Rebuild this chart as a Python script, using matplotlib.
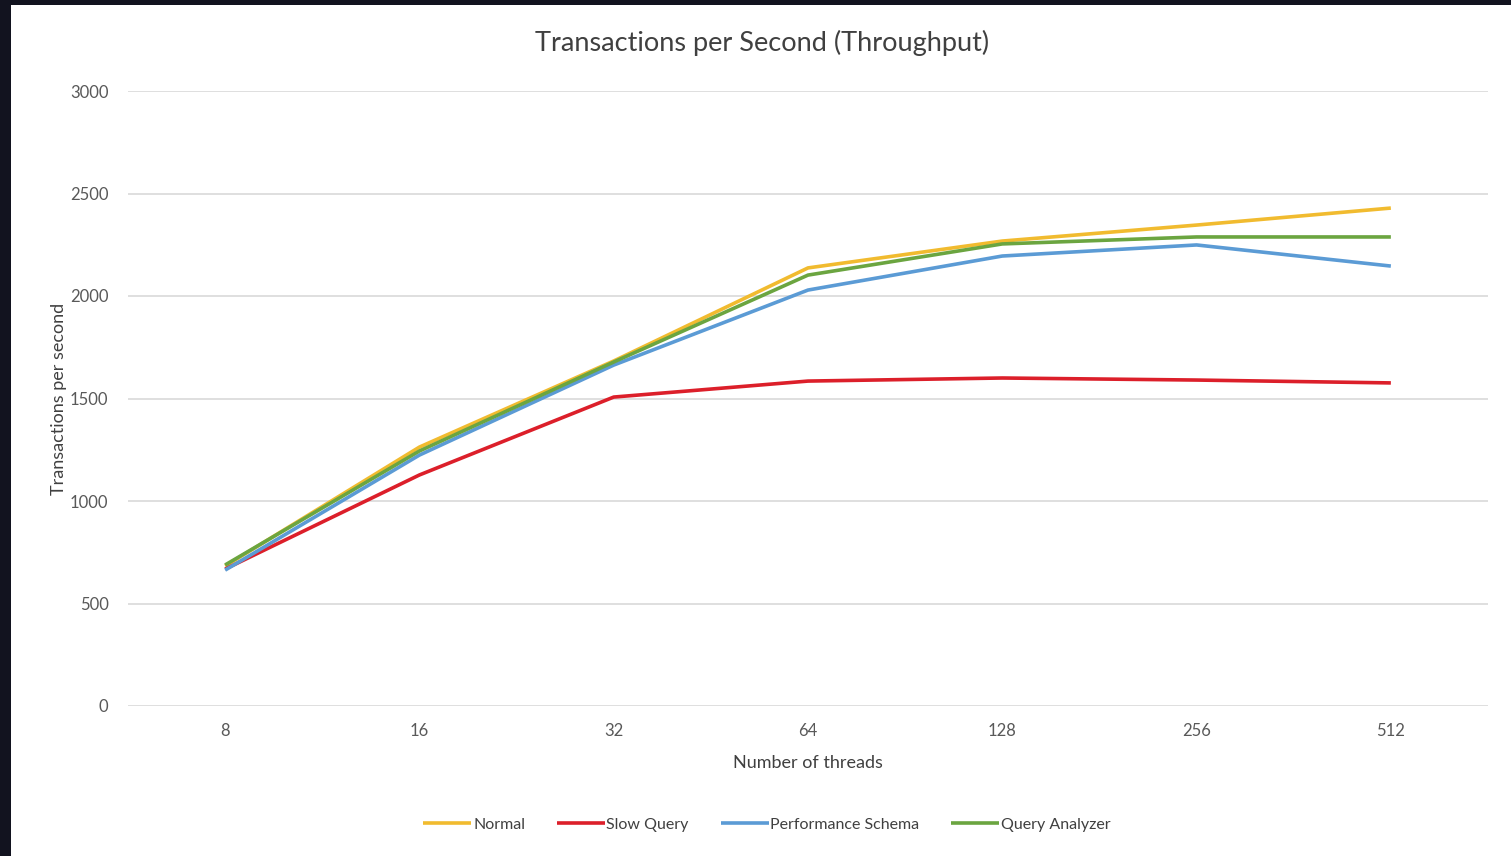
import matplotlib.pyplot as plt
from matplotlib.patches import Rectangle

# data
threads = ['8', '16', '32', '64', '128', '256', '512']
normal = [683, 1263, 1683, 2137, 2268, 2346, 2429]
slow_query = [668, 1127, 1507, 1585, 1600, 1590, 1576]
perf_schema = [663, 1224, 1663, 2029, 2195, 2249, 2146]
query_analyzer = [688, 1244, 1678, 2102, 2254, 2288, 2288]

series = [
    ('Normal', normal, '#F1BB2F'),
    ('Slow Query', slow_query, '#DC1F2A'),
    ('Performance Schema', perf_schema, '#5B9BD5'),
    ('Query Analyzer', query_analyzer, '#6BA540'),
]

plt.rcParams['font.family'] = ['Lato', 'DejaVu Sans']

fig = plt.figure(figsize=(15.11, 8.56), dpi=100)
fig.patch.set_facecolor('#12131F')
# white chart area inside the dark frame
fig.patches.append(Rectangle((11 / 1511, 0), 1, 1 - 5 / 856, transform=fig.transFigure,
                             facecolor='white', edgecolor='none', zorder=-10))

ax = fig.add_axes([128 / 1511, 1 - 706 / 856, 1360 / 1511, 615 / 856])
ax.set_facecolor('none')

x = range(len(threads))
for name, vals, col in series:
    ax.plot(x, vals, color=col, linewidth=2.6, label=name, solid_capstyle='butt')

ax.set_xlim(-0.5, len(threads) - 0.5)
ax.set_ylim(0, 3000)
ax.set_yticks(range(0, 3001, 500))
ax.set_xticks(list(x))
ax.set_xticklabels(threads)
ax.grid(axis='y', color='#D9D9D9', linewidth=1.2)
ax.set_axisbelow(True)
for s in ax.spines.values():
    s.set_visible(False)
ax.tick_params(length=0, labelsize=12, colors='#595959', pad=14)
ax.tick_params(axis='x', pad=12)

ax.set_xlabel('Number of threads', fontsize=13, color='#404040', labelpad=12)
ax.set_ylabel('Transactions per second', fontsize=13, color='#404040', labelpad=2)
fig.text(762 / 1511, 1 - 43 / 856, 'Transactions per Second (Throughput)', ha='center', va='center',
         fontsize=19.5, color='#404040')

leg = fig.legend(loc='center', bbox_to_anchor=(767 / 1511, 1 - 825 / 856), ncol=4, frameon=False,
                 fontsize=11.5, handlelength=3, handletextpad=0.1, columnspacing=2.0)
for t in leg.get_texts():
    t.set_color('#404040')

fig.savefig('out.png', dpi=100, facecolor=fig.get_facecolor())
